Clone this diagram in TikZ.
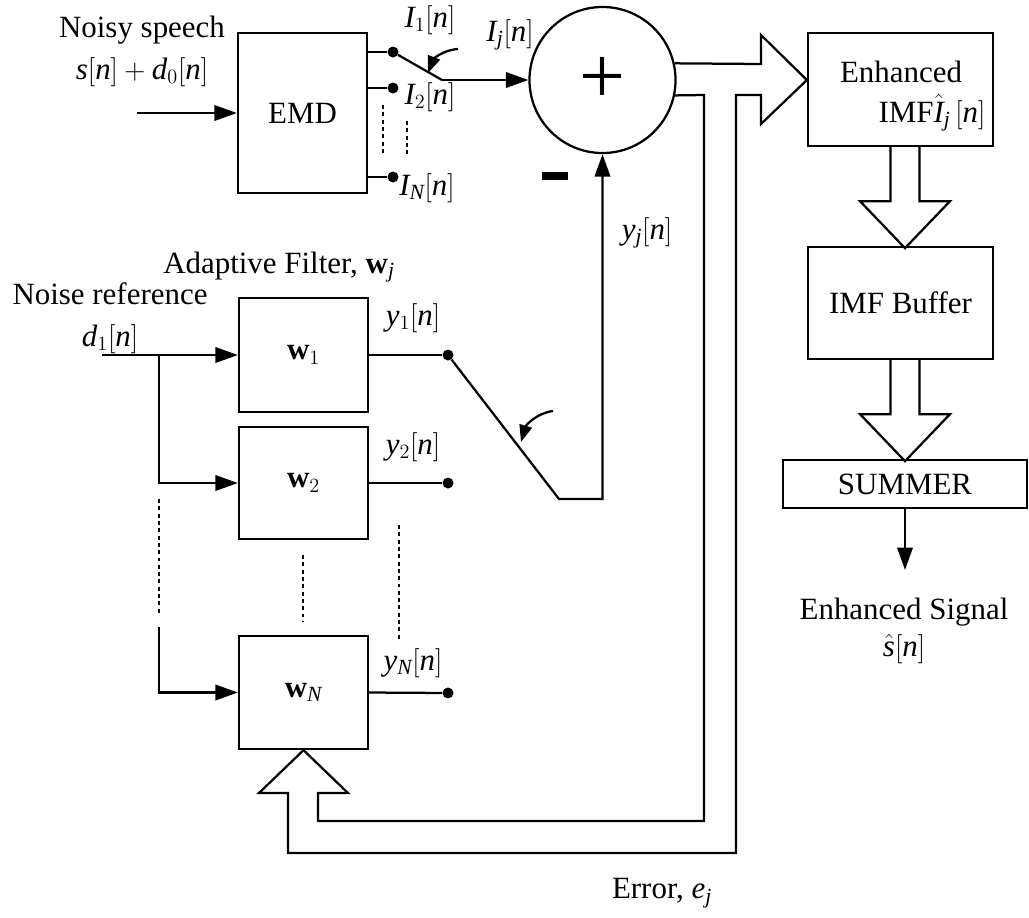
\documentclass[tikz,border=0pt]{standalone}
\usepackage{amsmath}
\usepackage{fontspec}
\setmainfont{Liberation Serif}
% Times-like letters in math
\DeclareSymbolFont{lsit}{TU}{\rmdefault}{m}{it}
\DeclareSymbolFont{lsup}{TU}{\rmdefault}{m}{n}
\DeclareMathSymbol{s}{\mathalpha}{lsit}{`s}
\DeclareMathSymbol{n}{\mathalpha}{lsit}{`n}
\DeclareMathSymbol{d}{\mathalpha}{lsit}{`d}
\DeclareMathSymbol{I}{\mathalpha}{lsit}{`I}
\DeclareMathSymbol{j}{\mathalpha}{lsit}{`j}
\DeclareMathSymbol{y}{\mathalpha}{lsit}{`y}
\DeclareMathSymbol{N}{\mathalpha}{lsit}{`N}
\DeclareMathSymbol{e}{\mathalpha}{lsit}{`e}
\DeclareMathSymbol{0}{\mathalpha}{lsup}{`0}
\DeclareMathSymbol{1}{\mathalpha}{lsup}{`1}
\DeclareMathSymbol{2}{\mathalpha}{lsup}{`2}
\DeclareMathSymbol{[}{\mathopen}{lsup}{`[}
\DeclareMathSymbol{]}{\mathclose}{lsup}{`]}
\DeclareMathSymbol{+}{\mathbin}{lsup}{`+}
\usepackage{tikz}
\usetikzlibrary{shapes,arrows.meta,positioning,calc}

\tikzset{
  wire/.style={line width=1.6pt},
  arr/.style={wire,-{Triangle[length=16pt,width=11pt]}},
  smallarr/.style={wire,-{Triangle[length=12pt,width=9pt]}},
  dots/.style={line width=1.3pt,dash pattern=on 2.8pt off 2.4pt},
  block/.style={draw,wire,rectangle,inner sep=0pt},
  pin/.style={circle,fill,inner sep=0pt,minimum size=0.275cm}
}

\begin{document}
\begin{tikzpicture}[x=0.025cm,y=-0.025cm,font=\fontsize{22}{30}\selectfont]
\useasboundingbox (0,0) rectangle (1029,917);

% blocks
\node[block, minimum width=3.225cm, minimum height=4cm] (emd) at (302.5,113) {EMD};
\node[draw, wire, circle, inner sep=0pt, minimum size=3.65cm] (sumc) at (602.5,80) {\fontsize{58}{58}\selectfont +};
\node[block, minimum width=3.225cm, minimum height=2.85cm] (w1) at (303.5,355) {$\textbf{w}_1$};
\node[block, minimum width=3.225cm, minimum height=2.8cm] (w2) at (303.5,483) {$\textbf{w}_2$};
\node[block, minimum width=3.225cm, minimum height=2.825cm] (wN) at (303.5,692.5) {$\textbf{w}_N$};
\node[block, minimum width=4.625cm, minimum height=2.825cm] (enh) at (900.5,89.5) {};
\node[block, minimum width=4.625cm, minimum height=2.8cm] (buf) at (900.5,303) {IMF Buffer};
\node[block, minimum width=6.1cm, minimum height=1.2cm] (sum) at (905,484) {SUMMER};
\node[fill, inner sep=0pt, minimum width=0.65cm, minimum height=0.2cm] (minus) at (555,176) {};

% labels
\node[align=center] (noisy) at (142,51) {Noisy speech\\$s[n]+d_0[n]$};
\node (i1lbl) at (430,20) {$I_1[n]$};
\node (ijlbl) at (510,35) {$I_j[n]$};
\node (i2lbl) at (430,97) {$I_2[n]$};
\node (inlbl) at (427,188) {$I_N[n]$};
\node (adapt) at (279,267) {Adaptive Filter, $\textbf{w}_j$};
\node[align=center] (noiseref) at (110,318) {Noise reference\\$d_1[n]$};
\node (y1lbl) at (413,318) {$y_1[n]$};
\node (y2lbl) at (413,447) {$y_2[n]$};
\node (ynlbl) at (413,663) {$y_N[n]$};
\node (yjlbl) at (647,233) {$y_j[n]$};
\node (enhtxt) at (901,72) {Enhanced};
\node (imftxt) at (932,113) {IMF$\hat{I}_j\,[n]$};
\node[align=center, font=\fontsize{22}{26}\selectfont] (outtxt) at (904,631) {Enhanced Signal\\$\hat{s}[n]$};
\node (errtxt) at (662,893) {Error, $e_j$};

% EMD side
\coordinate (inp) at (137,113);
\draw[arr] (inp) -- (emd.west);
\node[pin] (i1) at (393,52) {};
\node[pin] (i2) at (393,88) {};
\node[pin] (iN) at (393,177) {};
\draw[wire] (emd.east |- i1) -- (i1);
\draw[wire] (emd.east |- i2) -- (i2);
\draw[wire] (emd.east |- iN) -- (iN);
\coordinate (sw1) at (442,80);
\draw[wire] (i1) -- (sw1);
\draw[arr] (sw1) -- (sumc.west);
\coordinate (c1a) at (458,49);
\coordinate (c1b) at (428,73);
\draw[smallarr] (c1a) .. controls (442,50) and (433,60) .. (c1b);
\draw[dots] (383,105) -- (383,155);
\draw[dots] (407,121) -- (407,155);

% filter bank
\coordinate (d1) at (102,355);
\coordinate (br) at (159,355);
\coordinate (brN) at (159,627);
\draw[arr] (d1) -- (w1.west);
\draw[arr] (br) -- (br |- w2.west) -- (w2.west);
\draw[dots] (159,499) -- (159,613);
\draw[arr] (brN) -- (brN |- wN.west) -- (wN.west);
\draw[dots] (303,555) -- (303,621);
\node[pin] (y1) at (448,355) {};
\node[pin] (y2) at (448,483) {};
\node[pin] (yN) at (448,693) {};
\draw[wire] (w1.east) -- (y1);
\draw[wire] (w2.east) -- (y2);
\draw[wire] (wN.east) -- (yN);
\draw[dots] (399,525) -- (399,639);
\coordinate (sw2) at (559,499);
\draw[arr] (y1) -- (sw2) -- (sw2 -| sumc.south) -- (sumc.south);
\coordinate (c2a) at (553,411);
\coordinate (c2b) at (521,442);
\draw[smallarr] (c2a) .. controls (537,413) and (526,425) .. (c2b);

% output column
\coordinate (colx) at (905,0);
\draw[wire] (enh.south -| colx) ++(-14.5,0) -- ++(0,54) -- ++(-30.5,0) -- ++(45,47) -- ++(45,-47) -- ++(-30.5,0) -- ++(0,-54);
\draw[wire] (buf.south -| colx) ++(-14.5,0) -- ++(0,54) -- ++(-30.5,0) -- ++(45,47) -- ++(45,-47) -- ++(-30.5,0) -- ++(0,-54);
\coordinate (sout) at (905,570);
\draw[arr] (sum.south) -- (sout);

% error feedback
\draw[wire] (sumc.13) -- (761,64) -- (761,35) -- (enh.west |- sumc) -- (761,124) -- (761,95) -- (736,95)
  -- (736,853) -- (288,853) -- (288,793) -- (259,793) -- (wN.south) -- (348,793) -- (318,793)
  -- (318,821) -- (704,821) -- (704,95) -- (sumc.-12);
\end{tikzpicture}
\end{document}
